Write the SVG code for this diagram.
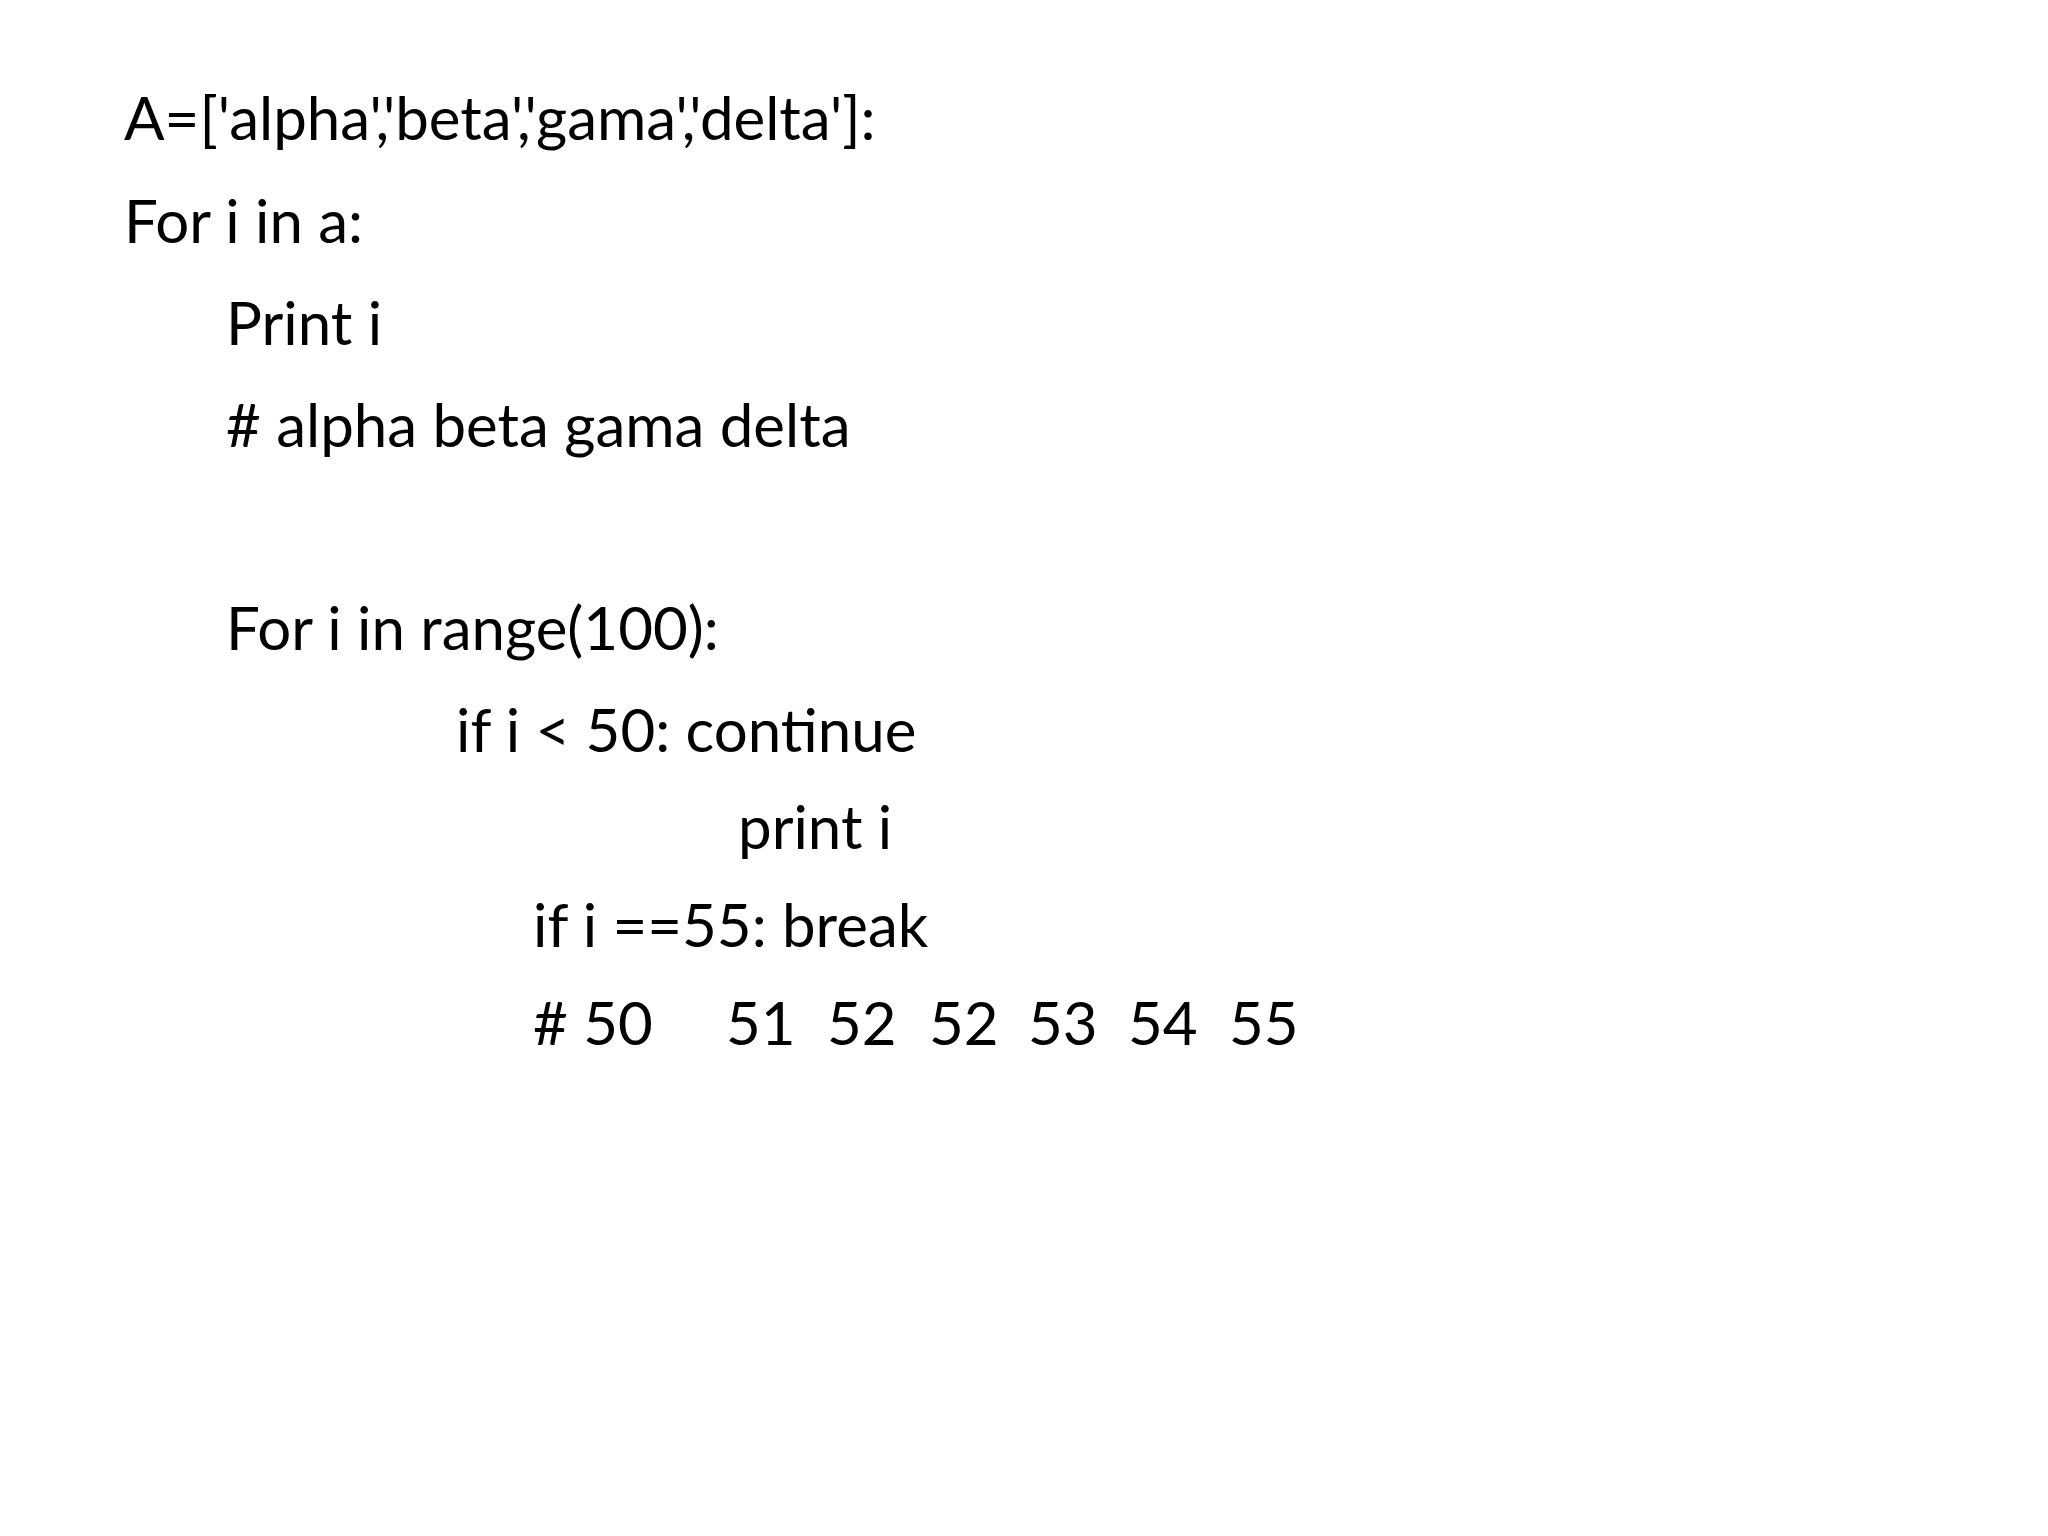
<svg xmlns="http://www.w3.org/2000/svg" width="2048" height="1536" viewBox="0 0 2048 1536">
<style>text{font-family:Lato,"Open Sans",sans-serif;font-size:60px;fill:#000}</style>
<rect width="2048" height="1536" fill="#fff"/>
<g id="code">
<text x="124" y="140">A=['alpha','beta','gama','delta']:</text>
<text x="124" y="243">For i in a:</text>
<text x="226" y="345">Print i</text>
<text x="226" y="447"># alpha beta gama delta</text>
<text x="226" y="650">For i in range(100):</text>
<text x="456" y="752">if i &lt; 50: continue</text>
<text x="738" y="849">print i</text>
<text x="533" y="947">if i ==55: break</text>
<text y="1045"><tspan x="533"># 50</tspan><tspan x="726">51</tspan><tspan x="827">52</tspan><tspan x="929">52</tspan><tspan x="1028">53</tspan><tspan x="1128">54</tspan><tspan x="1229">55</tspan></text>
</g>
</svg>
